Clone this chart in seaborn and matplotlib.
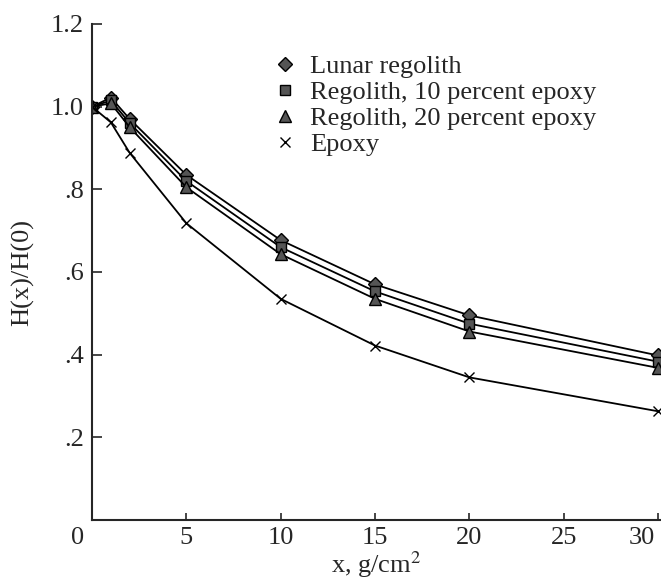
import pandas as pd
import matplotlib.pyplot as plt
import matplotlib.transforms as mtransforms
import seaborn as sns
from matplotlib.lines import Line2D

# thickness values, g/cm^2
x_vals = [0, 1, 2, 5, 10, 15, 20, 30]

lunar = [1.0, 1.022, 0.970, 0.835, 0.677, 0.570, 0.495, 0.398]
epoxy10 = [1.0, 1.015, 0.960, 0.820, 0.660, 0.553, 0.475, 0.383]
epoxy20 = [1.0, 1.008, 0.950, 0.805, 0.643, 0.535, 0.456, 0.368]
epoxy = [1.0, 0.962, 0.888, 0.718, 0.535, 0.422, 0.345, 0.263]

names = ["Lunar regolith", "Regolith, 10 percent epoxy",
         "Regolith, 20 percent epoxy", "Epoxy"]
series = [lunar, epoxy10, epoxy20, epoxy]
markers = ["D", "s", "^", "x"]
msizes = [7, 7, 8, 7]

df = pd.concat([pd.DataFrame({"x": x_vals, "H": v, "material": n})
                for n, v in zip(names, series)])

sns.set_style("ticks")
plt.rcParams["font.family"] = ["Liberation Serif", "DejaVu Serif"]
plt.rcParams["mathtext.fontset"] = "stix"

fig = plt.figure(figsize=(6.61, 5.82), dpi=100)
ax = fig.add_axes([92 / 661, 62 / 582, 1 - 92 / 661, 496 / 582])

for n, m, ms in zip(names, markers, msizes):
    sns.lineplot(data=df[df["material"] == n], x="x", y="H", ax=ax,
                 color="black", linewidth=1.3, marker=m, markersize=ms,
                 markerfacecolor="#555555", markeredgecolor="black",
                 markeredgewidth=1.0, legend=False)

ax.set_xlim(0, 30.15)
ax.set_ylim(0, 1.2)
ax.set_xticks([0, 5, 10, 15, 20, 25, 30])
ax.set_xticklabels(["0", "5", "10", "15", "20", "25", "30"])
ax.set_yticks([0.2, 0.4, 0.6, 0.8, 1.0, 1.2])
ax.set_yticklabels([".2", ".4", ".6", ".8", "1.0", "1.2"])
ax.tick_params(axis="both", direction="in", labelsize=19, width=1.2)
ax.tick_params(axis="y", length=7, pad=6)
ax.tick_params(axis="x", length=5, pad=5)
ax.xaxis.get_major_ticks()[0].tick1line.set_visible(False)

# shift the origin label left, and the last label inward
labels = ax.get_xticklabels()
labels[0].set_transform(labels[0].get_transform() +
                        mtransforms.ScaledTranslation(-0.14, 0, fig.dpi_scale_trans))
labels[-1].set_transform(labels[-1].get_transform() +
                         mtransforms.ScaledTranslation(-0.16, 0, fig.dpi_scale_trans))

sns.despine(ax=ax)
for s in ["left", "bottom"]:
    ax.spines[s].set_linewidth(1.5)

ax.set_xlabel("x, g/cm$^2$", fontsize=19, labelpad=0)
ax.set_ylabel("H(x)/H(0)", fontsize=19, labelpad=12)

handles = [Line2D([], [], linestyle="none", marker=m, markersize=ms,
                  markerfacecolor="#555555", markeredgecolor="black")
           for m, ms in zip(markers, msizes)]
ax.legend(handles, names, loc="upper left", bbox_to_anchor=(0.316, 0.938),
          frameon=False, fontsize=19, handlelength=1.0, handletextpad=0.46,
          labelspacing=0.09, borderpad=0.0, borderaxespad=0.0)

fig.savefig("out.png", dpi=100)
